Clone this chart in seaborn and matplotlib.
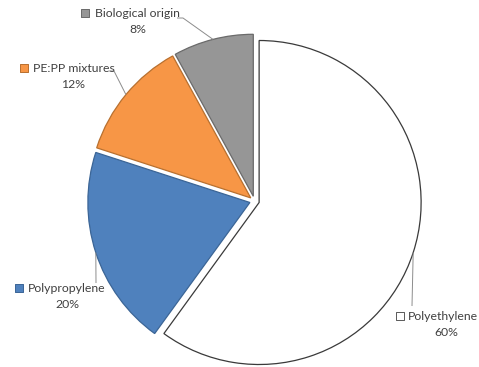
"""
Pie chart of polymer types (recreated from reference figure).
"""

import matplotlib
matplotlib.use("Agg")
import matplotlib.pyplot as plt
import numpy as np
import seaborn as sns

# data
categories = ["Polyethylene", "Polypropylene", "PE:PP mixtures", "Biological origin"]
shares = [60, 20, 12, 8]
share_labels = ["60%", "20%", "12%", "8%"]

# styling
fill_colors = ["#FFFFFF", "#4F81BD", "#F79646", "#969696"]
edge_colors = ["#3A3A3A", "#3B6596", "#B8702F", "#6A6A6A"]
text_color = "#404040"

W, H = 479, 367
CX, CY, R = 254.5, 201.0, 162.0


def px(x, y):
    """pixel position -> data coords (pie radius = 1)"""
    return (x - CX) / R, (CY - y) / R


sns.set_style("white")
plt.rcParams["font.family"] = ["Lato", "DejaVu Sans"]

fig = plt.figure(figsize=(W / 100, H / 100), dpi=100)
ax = fig.add_axes([0, 0, 1, 1])

wedges, _ = ax.pie(
    shares,
    colors=fill_colors,
    startangle=90,
    counterclock=False,
    explode=[0.03] * len(shares),
    radius=1.0,
    wedgeprops=dict(linewidth=0.9),
)
for w, ec in zip(wedges, edge_colors):
    w.set_edgecolor(ec)

x0, y1 = px(0, 0)
x1, y0 = px(W, H)
ax.set_xlim(x0, x1)
ax.set_ylim(y0, y1)
ax.set_aspect("equal")
ax.axis("off")

# label layout (pixel positions): name line, percent line, marker, leader end
name_pos = [(408, 317), (28, 289), (33, 69), (95, 14)]
pct_pos = [(446, 333), (67, 305), (73, 85), (138, 30)]
marker_pos = [(400, 316), (19, 288), (24, 68), (85, 13)]
leader_end = [[(412, 306)], [(96, 283)], [(114, 71), (109, 71)], [(183, 18), (177, 18)]]

for w, name, pct, npos, ppos, mpos, lend, fc, ec in zip(
    wedges, categories, share_labels, name_pos, pct_pos, marker_pos, leader_end,
    fill_colors, edge_colors,
):
    # leader line starts at the middle of each slice's arc
    mid = np.deg2rad((w.theta1 + w.theta2) / 2)
    sx = w.center[0] + w.r * np.cos(mid)
    sy = w.center[1] + w.r * np.sin(mid)
    pts = [(sx, sy)] + [px(*p) for p in lend]
    xs, ys = zip(*pts)
    ax.plot(xs, ys, color="#8C8C8C", linewidth=0.7, solid_capstyle="butt", zorder=1)

    mx, my = px(*mpos)
    ax.scatter([mx], [my], marker="s", s=26, facecolor=fc,
               edgecolor="#595959" if fc == "#FFFFFF" else ec, linewidth=0.7, zorder=3)
    tx, ty = px(*npos)
    ax.text(tx, ty, name, ha="left", va="center", fontsize=8.8, color=text_color)
    qx, qy = px(*ppos)
    ax.text(qx, qy, pct, ha="center", va="center", fontsize=8.8, color=text_color)

fig.savefig("out.png", dpi=100, facecolor="white")
plt.close(fig)
